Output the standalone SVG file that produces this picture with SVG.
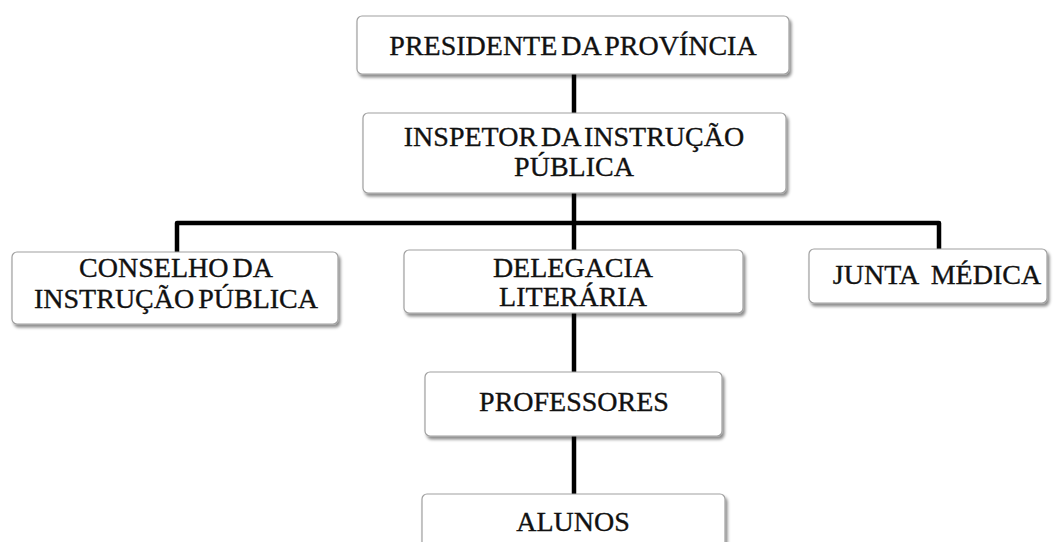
<svg xmlns="http://www.w3.org/2000/svg" width="1054" height="542" viewBox="0 0 1054 542">
<defs>
<filter id="sh" x="-5%" y="-10%" width="115%" height="140%">
<feDropShadow dx="2" dy="3" stdDeviation="1.5" flood-color="#000" flood-opacity="0.45"/>
</filter>
<style>
.box{fill:#fff;stroke:#a0a0a0;stroke-width:1.2;filter:url(#sh)}
.t{font-family:"Liberation Serif","Times New Roman",serif;font-size:28px;fill:#111;stroke:#111;stroke-width:0.35;text-anchor:middle;word-spacing:-3px}
.c{stroke:#000;stroke-width:4.5;fill:none;stroke-linejoin:round}
</style>
</defs>
<rect width="1054" height="542" fill="#fff"/>
<g id="connectors">
<line class="c" x1="574" y1="74" x2="574" y2="113"/>
<line class="c" x1="574" y1="193" x2="574" y2="250"/>
<path class="c" d="M177 252 V223 H939 V249"/>
<line class="c" x1="574" y1="313" x2="574" y2="372"/>
<line class="c" x1="574" y1="436" x2="574" y2="494"/>
</g>
<g id="presidente">
<rect class="box" x="357" y="16" width="432" height="58" rx="5"/>
<text class="t" x="573" y="55">PRESIDENTE DA PROVÍNCIA</text>
</g>
<g id="inspetor">
<rect class="box" x="363" y="113" width="423" height="80" rx="5"/>
<text class="t" x="574" y="146">INSPETOR DA INSTRUÇÃO</text>
<text class="t" x="574" y="176">PÚBLICA</text>
</g>
<g id="conselho">
<rect class="box" x="12" y="252" width="326" height="72" rx="5"/>
<text class="t" x="176" y="277">CONSELHO DA</text>
<text class="t" x="176" y="308">INSTRUÇÃO PÚBLICA</text>
</g>
<g id="delegacia">
<rect class="box" x="404" y="250" width="339" height="63" rx="5"/>
<text class="t" x="573" y="277">DELEGACIA</text>
<text class="t" x="573" y="306">LITERÁRIA</text>
</g>
<g id="junta">
<rect class="box" x="809" y="249" width="238" height="54" rx="5"/>
<text class="t" x="937" y="284" style="word-spacing:6px">JUNTA MÉDICA</text>
</g>
<g id="professores">
<rect class="box" x="425" y="372" width="297" height="64" rx="5"/>
<text class="t" x="574" y="411">PROFESSORES</text>
</g>
<g id="alunos">
<rect class="box" x="422" y="494" width="303" height="60" rx="5"/>
<text class="t" x="573" y="531">ALUNOS</text>
</g>
</svg>
